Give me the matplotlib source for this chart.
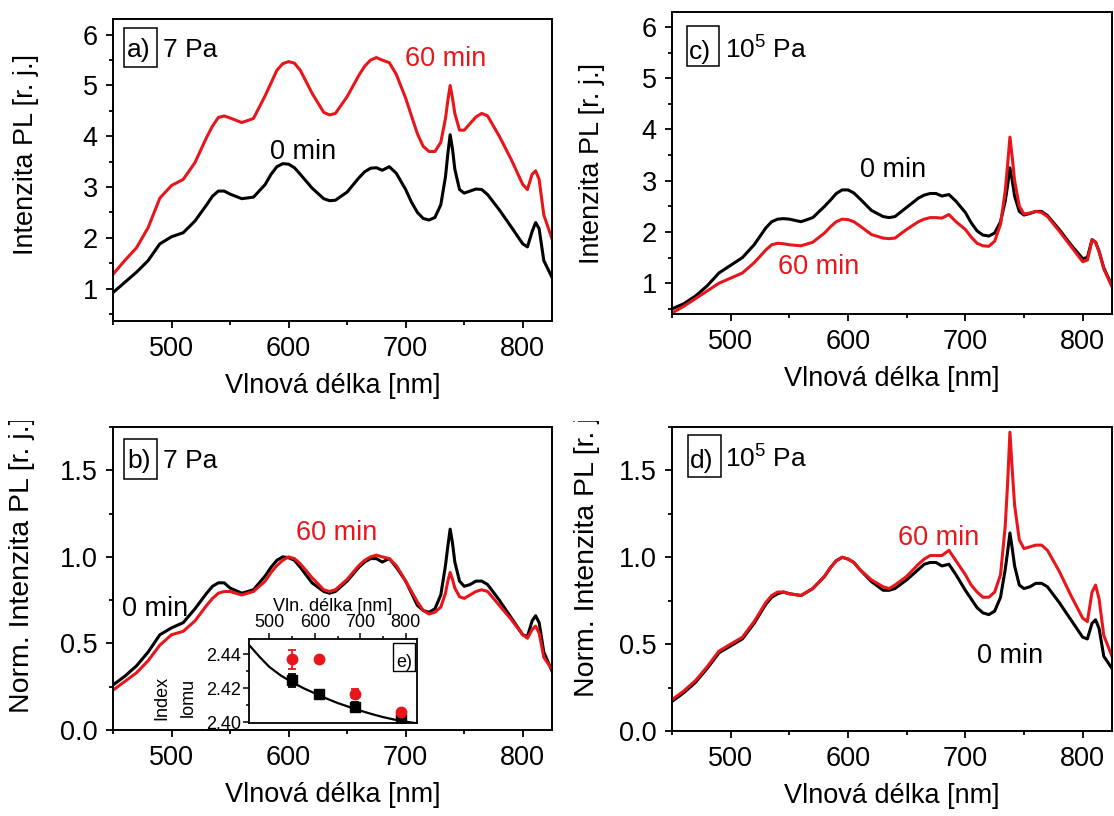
import numpy as np
import matplotlib
matplotlib.use("Agg")
from matplotlib import pyplot as plt
from matplotlib.ticker import MultipleLocator, FormatStrFormatter
from matplotlib.transforms import Bbox, TransformedBbox
from matplotlib.patches import Rectangle

plt.rcParams['font.family'] = ['Liberation Sans', 'DejaVu Sans']
plt.rcParams['mathtext.default'] = 'regular'

RED = '#e8161b'
FS = 19.5

# wavelength grid [nm]
wl = [450, 460, 470, 480, 490, 500, 510, 520, 530,
      535, 540, 545, 550,
      560, 570, 580, 585, 590, 595, 600, 605, 610,
      620, 630, 635, 640, 650, 660, 665, 670, 675, 680,
      686, 692, 700, 705, 710, 715, 720, 725, 730,
      734, 736, 738, 740, 742, 746, 750, 755, 760, 765, 770,
      780, 790, 800, 804, 808, 811, 814, 818, 825]

# a) 7 Pa, PL intensity
a_0min = [0.92, 1.12, 1.32, 1.55, 1.88, 2.02, 2.1, 2.33, 2.65,
          2.82, 2.92, 2.92, 2.86,
          2.77, 2.8, 3.05, 3.25, 3.4, 3.46, 3.45, 3.38, 3.25,
          2.98, 2.77, 2.73, 2.74, 2.9, 3.18, 3.3, 3.37, 3.38, 3.33,
          3.4, 3.27, 2.95, 2.7, 2.5, 2.38, 2.35, 2.4, 2.65,
          3.2, 3.65, 4.03, 3.75, 3.35, 2.95, 2.88, 2.92, 2.96, 2.95, 2.85,
          2.55, 2.22, 1.88, 1.82, 2.12, 2.3, 2.18, 1.55, 1.22]
a_60min = [1.28, 1.55, 1.8, 2.2, 2.78, 3.03, 3.15, 3.48, 3.98,
           4.2, 4.37, 4.4, 4.36,
           4.27, 4.35, 4.8, 5.05, 5.3, 5.43, 5.47, 5.44, 5.3,
           4.85, 4.47, 4.42, 4.45, 4.78, 5.2, 5.38, 5.5, 5.55, 5.5,
           5.45, 5.22, 4.75, 4.4, 4.05, 3.8, 3.7, 3.7, 3.88,
           4.35, 4.7, 5.0, 4.75, 4.45, 4.12, 4.12, 4.25, 4.38, 4.45, 4.4,
           4.0, 3.55, 3.05, 2.95, 3.25, 3.32, 3.15, 2.45, 1.98]

# c) 10^5 Pa, PL intensity
c_0min = [0.5, 0.6, 0.75, 0.95, 1.2, 1.35, 1.5, 1.75, 2.08,
          2.2, 2.25, 2.26, 2.25,
          2.2, 2.28, 2.5, 2.62, 2.75, 2.82, 2.82, 2.76, 2.65,
          2.42, 2.3, 2.28, 2.3, 2.48, 2.66, 2.72, 2.75, 2.75, 2.7,
          2.73, 2.6, 2.38, 2.18, 2.02, 1.94, 1.92, 1.98, 2.2,
          2.6, 2.9, 3.25, 3.0, 2.7, 2.4, 2.33, 2.36, 2.4, 2.4, 2.32,
          2.05, 1.75, 1.48, 1.5, 1.85, 1.8, 1.62, 1.3, 0.95]
c_60min = [0.42, 0.55, 0.7, 0.85, 1.0, 1.1, 1.2, 1.4, 1.65,
           1.75, 1.78, 1.77, 1.75,
           1.73, 1.8, 1.98, 2.1, 2.2, 2.25, 2.24, 2.2, 2.12,
           1.95, 1.88, 1.87, 1.88, 2.05, 2.2, 2.25, 2.28, 2.28, 2.27,
           2.34, 2.2, 2.05, 1.9, 1.78, 1.73, 1.72, 1.82, 2.15,
           2.8, 3.3, 3.85, 3.45, 3.0, 2.5, 2.35, 2.37, 2.4, 2.38, 2.3,
           2.02, 1.72, 1.42, 1.45, 1.84, 1.8, 1.62, 1.28, 0.93]

# b) 7 Pa, normalized
b_0min = [0.26, 0.31, 0.37, 0.45, 0.55, 0.59, 0.62, 0.7, 0.79,
          0.83, 0.85, 0.85, 0.82,
          0.79, 0.81, 0.89, 0.94, 0.98, 1.0, 0.995, 0.98, 0.94,
          0.85, 0.8, 0.79, 0.8, 0.86, 0.94, 0.97, 0.99, 0.99, 0.97,
          0.99, 0.94, 0.86, 0.79, 0.72, 0.69, 0.68, 0.7, 0.78,
          0.95, 1.06, 1.16, 1.08, 0.97, 0.86, 0.83, 0.84, 0.86, 0.86, 0.84,
          0.75, 0.65, 0.55, 0.54, 0.63, 0.66, 0.62, 0.45, 0.34]
b_60min = [0.23, 0.28, 0.33, 0.4, 0.49, 0.55, 0.57, 0.63, 0.72,
           0.76, 0.79, 0.8, 0.8,
           0.78, 0.8, 0.86, 0.91, 0.95, 0.98, 1.0, 0.99, 0.96,
           0.88, 0.81, 0.8, 0.81, 0.87, 0.95, 0.98, 1.0, 1.01, 1.0,
           0.99, 0.95, 0.86, 0.8, 0.74, 0.69, 0.67, 0.68, 0.71,
           0.79, 0.86, 0.91, 0.87, 0.82, 0.77, 0.76, 0.78, 0.8, 0.81, 0.8,
           0.72, 0.64, 0.55, 0.53, 0.58, 0.6, 0.56, 0.42, 0.35]

# d) 10^5 Pa, normalized
d_0min = [0.17, 0.22, 0.28, 0.36, 0.45, 0.49, 0.53, 0.62, 0.73,
          0.77, 0.79, 0.8, 0.79,
          0.78, 0.82, 0.89, 0.94, 0.98, 1.0, 0.99, 0.97, 0.93,
          0.86, 0.81, 0.81, 0.82, 0.87, 0.93, 0.96, 0.97, 0.97, 0.95,
          0.96, 0.9, 0.81, 0.76, 0.71, 0.68, 0.67, 0.69, 0.77,
          0.93, 1.03, 1.14, 1.05, 0.95, 0.84, 0.82, 0.83, 0.85, 0.85, 0.83,
          0.74, 0.64, 0.54, 0.53, 0.62, 0.64, 0.59, 0.43, 0.36]
d_60min = [0.18, 0.23, 0.29, 0.37, 0.46, 0.5, 0.54, 0.63, 0.74,
           0.78, 0.8, 0.8, 0.79,
           0.78, 0.82, 0.89, 0.94, 0.98, 1.0, 0.99, 0.97, 0.93,
           0.87, 0.83, 0.82, 0.84, 0.89, 0.96, 0.99, 1.01, 1.01, 1.01,
           1.04, 0.98, 0.9, 0.84, 0.8, 0.77, 0.77, 0.8, 0.9,
           1.18, 1.42, 1.72, 1.5, 1.3, 1.1, 1.05, 1.06, 1.07, 1.07, 1.04,
           0.92, 0.78, 0.65, 0.63, 0.8, 0.84, 0.76, 0.55, 0.43]

# e) refractive index inset
n_wl = [549, 609, 689, 789]
n_0min = [2.4246, 2.4164, 2.4089, 2.4016]
n_0min_err = [0.0037, 0.0008, 0.0030, 0.0008]
n_60min = [2.4370, 2.4374, 2.4168, 2.4061]
n_60min_err = [0.0057, 0.0, 0.0027, 0.0]
fit_wl = [455, 480, 500, 525, 550, 575, 600, 625, 650, 675, 700, 725, 750, 775, 800, 825]
fit_n = [2.4455, 2.4380, 2.4325, 2.4275, 2.4235, 2.4200, 2.4170, 2.4140, 2.4113,
         2.4090, 2.4068, 2.4048, 2.4030, 2.4015, 2.4003, 2.3993]

W, H = 1114, 816
fig = plt.figure(figsize=(W / 100, H / 100), dpi=100)


def px_axes(l, t, r, b):
    return fig.add_axes([l / W, 1 - b / H, (r - l) / W, (b - t) / H])


def style(ax, ylim, ymaj, ymin):
    ax.set_xlim(450, 825)
    ax.set_ylim(*ylim)
    ax.xaxis.set_major_locator(MultipleLocator(100))
    ax.xaxis.set_minor_locator(MultipleLocator(50))
    ax.yaxis.set_major_locator(MultipleLocator(ymaj))
    ax.yaxis.set_minor_locator(MultipleLocator(ymin))
    ax.tick_params(which='both', direction='out', top=False, right=False,
                   labelsize=FS, width=1.3, pad=6)
    ax.tick_params(which='major', length=5)
    ax.tick_params(which='minor', length=3)
    for s in ax.spines.values():
        s.set_linewidth(1.4)
    ax.set_xlabel('Vlnová délka [nm]', fontsize=FS, labelpad=8)


def panel_label(ax, letter, press, box, base, xl, xp):
    x0, x1, y0, y1 = box
    ax.add_patch(Rectangle((x0, y0), x1 - x0, y1 - y0, transform=ax.transAxes,
                           fc='white', ec='black', lw=1.1, zorder=5))
    ax.text(xl, base, letter, transform=ax.transAxes, fontsize=19, va='baseline',
            ha='left', zorder=6)
    ax.text(xp, base, press, transform=ax.transAxes, fontsize=19, va='baseline',
            ha='left', zorder=6)


ax_a = px_axes(113, 19, 552, 321)
ax_c = px_axes(672, 12, 1112, 314)
ax_b = px_axes(113, 427, 552, 730)
ax_d = px_axes(672, 427, 1112, 731)

lw = 2.2
ax_a.plot(wl, a_0min, color='black', lw=lw)
ax_a.plot(wl, a_60min, color=RED, lw=lw)
style(ax_a, (0.36, 6.31), 1, 0.5)
ax_a.set_ylabel('Intenzita PL [r. j.]', fontsize=FS)
ax_a.yaxis.set_label_coords(-0.168, 0.55)
ax_a.text(734, 5.53, '60 min', color=RED, fontsize=FS, ha='center', va='center')
ax_a.text(612, 3.68, '0 min', color='black', fontsize=FS, ha='center', va='center')
panel_label(ax_a, 'a)', '7 Pa', (0.025, 0.1, 0.84, 0.97), 0.874, 0.032, 0.114)

ax_c.plot(wl, c_0min, color='black', lw=lw)
ax_c.plot(wl, c_60min, color=RED, lw=lw)
style(ax_c, (0.4, 6.29), 1, 0.5)
ax_c.set_ylabel('Intenzita PL [r. j.]', fontsize=FS)
ax_c.yaxis.set_label_coords(-0.152, 0.5)
ax_c.text(638, 3.2, '0 min', color='black', fontsize=FS, ha='center', va='center')
ax_c.text(575, 1.31, '60 min', color=RED, fontsize=FS, ha='center', va='center')
panel_label(ax_c, 'c)', '10$^{5}$ Pa', (0.034, 0.107, 0.82, 0.955), 0.845, 0.039, 0.12)

ax_b.plot(wl, b_0min, color='black', lw=lw)
ax_b.plot(wl, b_60min, color=RED, lw=lw)
style(ax_b, (0, 1.75), 0.5, 0.25)
ax_b.yaxis.set_major_formatter(FormatStrFormatter('%.1f'))
ax_b.set_ylabel('Norm. Intenzita PL [r. j.]', fontsize=20.5)
ax_b.yaxis.set_label_coords(-0.178, 0.545)
ax_b.text(641, 1.137, '60 min', color=RED, fontsize=FS, ha='center', va='center')
ax_b.text(486, 0.70, '0 min', color='black', fontsize=FS, ha='center', va='center')
panel_label(ax_b, 'b)', '7 Pa', (0.025, 0.1, 0.83, 0.962), 0.865, 0.032, 0.114)

ax_d.plot(wl, d_0min, color='black', lw=lw)
ax_d.plot(wl, d_60min, color=RED, lw=lw)
style(ax_d, (0, 1.75), 0.5, 0.25)
ax_d.yaxis.set_major_formatter(FormatStrFormatter('%.1f'))
ax_d.set_ylabel('Norm. Intenzita PL [r. j.]', fontsize=20.5)
ax_d.yaxis.set_label_coords(-0.164, 0.6)
ax_d.text(677, 1.11, '60 min', color=RED, fontsize=FS, ha='center', va='center')
ax_d.text(738, 0.433, '0 min', color='black', fontsize=FS, ha='center', va='center')
panel_label(ax_d, 'd)', '10$^{5}$ Pa', (0.036, 0.111, 0.836, 0.975), 0.865, 0.041, 0.12)

# clip the lower y labels at the panel boundary
clip = TransformedBbox(Bbox.from_extents(0, 0, 1, 1 - 421 / H), fig.transFigure)
for ax in (ax_b, ax_d):
    ax.yaxis.label.set_clip_box(clip)
    ax.yaxis.label.set_clip_on(True)

# inset e)
ax_e = px_axes(249, 639, 417, 723)
ax_e.set_facecolor('white')
ax_e.plot(fit_wl, fit_n, color='black', lw=1.6)
ax_e.errorbar(n_wl, n_0min, yerr=n_0min_err, fmt='s', color='black', ms=6.5,
              capsize=3, elinewidth=1.3, capthick=1.3)
ax_e.errorbar(n_wl, n_60min, yerr=n_60min_err, fmt='o', color=RED, ms=7.5,
              capsize=3, elinewidth=1.3, capthick=1.3)
ax_e.set_xlim(455, 825)
ax_e.set_ylim(2.3995, 2.449)
ax_e.xaxis.set_major_locator(MultipleLocator(100))
ax_e.xaxis.set_minor_locator(MultipleLocator(50))
ax_e.yaxis.set_major_locator(MultipleLocator(0.02))
ax_e.yaxis.set_minor_locator(MultipleLocator(0.01))
ax_e.xaxis.tick_top()
ax_e.xaxis.set_label_position('top')
ax_e.yaxis.set_major_formatter(FormatStrFormatter('%.2f'))
ax_e.tick_params(which='both', direction='out', bottom=False, right=False,
                 labelsize=13, width=1.1, pad=2)
ax_e.tick_params(which='major', length=4)
ax_e.tick_params(which='minor', length=2.5)
for s in ax_e.spines.values():
    s.set_linewidth(1.3)
ax_e.set_xlabel('Vln. délka [nm]', fontsize=13, labelpad=2)
ax_e.set_ylabel('Index\nlomu', fontsize=13, linespacing=1.7)
ax_e.yaxis.set_label_coords(-0.31, 0.3)
ax_e.add_patch(Rectangle((0.855, 0.62), 0.135, 0.33, transform=ax_e.transAxes,
                         fc='white', ec='black', lw=1.0, zorder=5))
ax_e.text(0.922, 0.67, 'e)', transform=ax_e.transAxes, fontsize=13, ha='center',
          va='baseline', zorder=6)

fig.savefig('out.png', dpi=100)
